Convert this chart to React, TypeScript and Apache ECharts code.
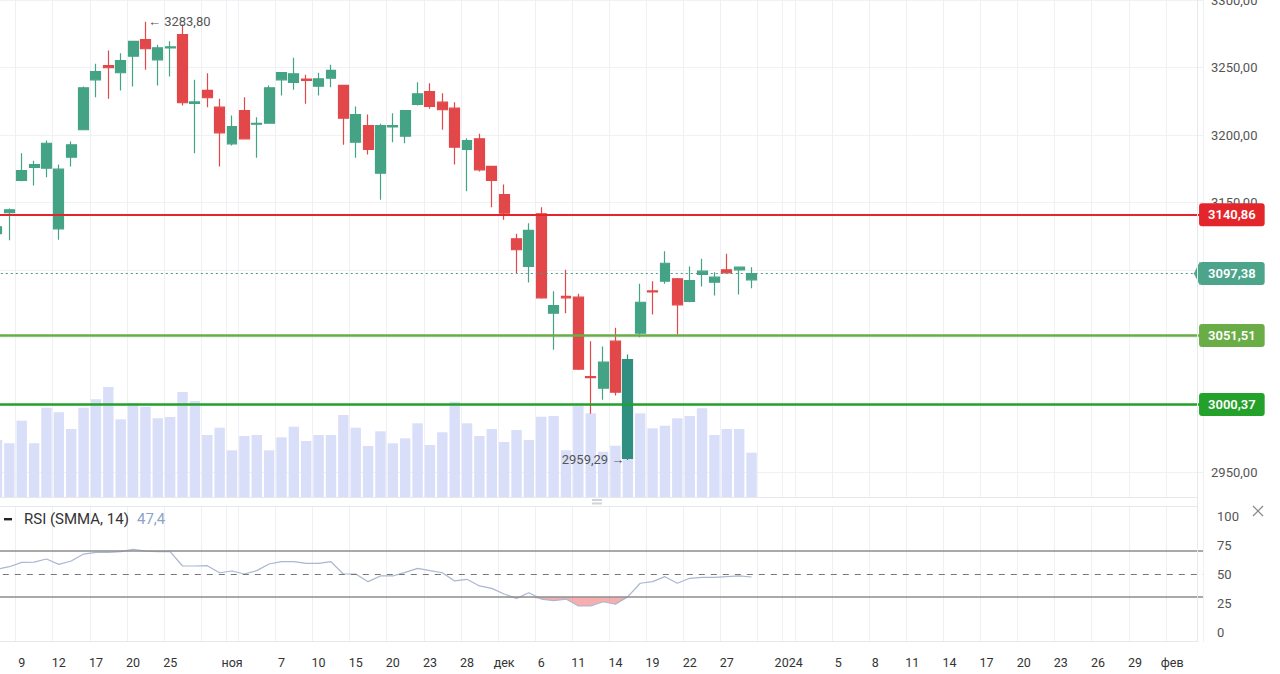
import React, { useEffect, useRef } from "react";
import * as echarts from "echarts";

// ---------- DATA ----------
const tradingDates = [
  "2023-10-05","2023-10-06","2023-10-09","2023-10-10","2023-10-11","2023-10-12","2023-10-13",
  "2023-10-16","2023-10-17","2023-10-18","2023-10-19","2023-10-20","2023-10-23","2023-10-24",
  "2023-10-25","2023-10-26","2023-10-27","2023-10-30","2023-10-31","2023-11-01","2023-11-02",
  "2023-11-03","2023-11-06","2023-11-07","2023-11-08","2023-11-09","2023-11-10","2023-11-13",
  "2023-11-14","2023-11-15","2023-11-16","2023-11-17","2023-11-20","2023-11-21","2023-11-22",
  "2023-11-23","2023-11-24","2023-11-27","2023-11-28","2023-11-29","2023-11-30","2023-12-01",
  "2023-12-04","2023-12-05","2023-12-06","2023-12-07","2023-12-08","2023-12-11","2023-12-12",
  "2023-12-13","2023-12-14","2023-12-15","2023-12-18","2023-12-19","2023-12-20","2023-12-21",
  "2023-12-22","2023-12-25","2023-12-26","2023-12-27","2023-12-28","2023-12-29",
];
const futureStart = "2023-12-30";
const futureEnd = "2024-02-03";

const opens = [
  3127, 3142.4, 3166.3, 3176, 3175.4, 3130.5, 3183.6, 3203.9, 3240.9, 3251.5,
  3246.1, 3258.4, 3270.7, 3255.7, 3264.5, 3274.4, 3223.5, 3233, 3220.6, 3193.5,
  3218.1, 3208, 3208.7, 3240.9, 3238.9, 3241.4, 3236.1, 3242.1, 3236.7, 3194.7,
  3207, 3171.7, 3206, 3199.1, 3222.6, 3232.2, 3224.3, 3219.9, 3189.3, 3197.2,
  3176.7, 3155.9, 3123.1, 3102.6, 3141.6, 3068, 3080.4, 3079.9, 3021, 3012.4,
  3047.3, 2960.5, 3053.2, 3084.5, 3091.7, 3093.5, 3076.7, 3096.7, 3091, 3100.1,
  3100.1, 3092.7,
];
const closes = [
  3132, 3144.6, 3173.7, 3178, 3193.9, 3174.7, 3192.7, 3235, 3247, 3249.8,
  3255.2, 3269.3, 3263.9, 3264.6, 3265.3, 3223.9, 3224.5, 3227.6, 3201.6, 3206.3,
  3197.2, 3208.6, 3235, 3246.3, 3245.3, 3240.4, 3241.6, 3247.8, 3212.4, 3215.2,
  3189.3, 3207, 3207, 3218.1, 3230.5, 3221.1, 3218.7, 3191, 3195.9, 3174.2,
  3166.3, 3142.1, 3115, 3129.3, 3079.4, 3073.7, 3079.4, 3026.5, 3020.2, 3031.7,
  3009.5, 3033.7, 3076.1, 3083.7, 3105, 3074.2, 3092.2, 3099.1, 3094.7, 3097.9,
  3102.1, 3097.38,
];
const lows = [
  3122, 3122, 3165.8, 3162.6, 3168.7, 3122.4, 3176.7, 3203.5, 3228, 3226.8,
  3233, 3235.9, 3248.3, 3236.7, 3243.3, 3221.9, 3186.5, 3220.6, 3176.7, 3192.2,
  3196.7, 3183.1, 3208.3, 3229.3, 3233.5, 3223.1, 3229.3, 3235.4, 3192.7, 3183.1,
  3185.6, 3152, 3194.7, 3193.9, 3221.9, 3219.4, 3203.9, 3178.1, 3158.4, 3173,
  3146.5, 3137.2, 3097.2, 3090.7, 3078.7, 3040.9, 3068, 3026, 2993.5, 3003.9,
  3007, 2959.29, 3050.2, 3067, 3089.8, 3052.2, 3076.1, 3087.8, 3081.1, 3097.2,
  3081.9, 3086.5,
];
const highs = [
  3136, 3145.5, 3186.5, 3181, 3195.9, 3178.1, 3195.2, 3236, 3252.7, 3262.6,
  3260.6, 3269.5, 3283.8, 3266.8, 3269.5, 3281.9, 3241, 3245.8, 3226.8, 3214.4,
  3228, 3213.2, 3236.7, 3246.5, 3257.2, 3244.6, 3246.1, 3252, 3237, 3221.1,
  3215.2, 3208.3, 3216.1, 3218.6, 3239.1, 3238.4, 3231, 3224.3, 3197.6, 3200.9,
  3177, 3163.3, 3126.8, 3134.7, 3146.5, 3084.3, 3100.1, 3082.4, 3047.3, 3043.3,
  3057.2, 3037.4, 3089.8, 3091.7, 3113.9, 3094, 3102.6, 3108.3, 3098.4, 3112,
  3102.5, 3102.1,
];
const volumes = [
  57, 53.7, 76.3, 53.7, 89.3, 84.7, 68, 89.3, 97.7, 110,
  77.7, 93.7, 90.3, 78.7, 80, 105, 96, 62, 69.3, 46.7,
  61, 62, 46.7, 59.7, 70.3, 56, 62, 62, 82, 69.3,
  51, 65.7, 53.7, 58.7, 73.7, 52, 64.7, 95.3, 73.7, 61,
  68, 55, 67, 57, 80.3, 81, 46.7, 91, 83.7, 45.3,
  51.3, 52, 83.7, 68.7, 71.3, 78.7, 81, 88.7, 62, 68,
  68, 44.3,
];
const rsi = [
  54, 56.3, 60, 60.3, 62.9, 58.3, 61.2, 67.2, 68.7, 68.7,
  69.3, 71.3, 69.8, 69.3, 69.3, 56.9, 56.9, 57.2, 51.1, 52.6,
  50, 52.9, 58.6, 60.6, 60.6, 59.2, 59.2, 60.6, 50, 50,
  43.4, 48.3, 48.3, 51.4, 54.9, 52.9, 51.1, 44, 45.4, 39.7,
  37.6, 32.8, 29, 33.9, 28.4, 27, 28.4, 22.4, 22.4, 26.1,
  23.9, 30.5, 42, 43.4, 47.7, 42, 46.3, 47.1, 47.1, 47.7,
  48.3, 47.4,
];

const levelValues = [3140.86, 3051.51, 3000.37];
const levelColors = ["#e3262b", "#6aad47", "#23a12a"];
const lastPrice = 3097.38;
const maxMarkIndex = 12;
const minMarkIndex = 51;

const xLabelDates = [
  "2023-10-09","2023-10-12","2023-10-17","2023-10-20","2023-10-25","2023-11-01","2023-11-07",
  "2023-11-10","2023-11-15","2023-11-20","2023-11-23","2023-11-28","2023-12-01","2023-12-06",
  "2023-12-11","2023-12-14","2023-12-19","2023-12-22","2023-12-27","2024-01-01","2024-01-05",
  "2024-01-08","2024-01-11","2024-01-14","2024-01-17","2024-01-20","2024-01-23","2024-01-26",
  "2024-01-29","2024-02-01",
];
const xLabelTexts = [
  "9","12","17","20","25","ноя","7","10","15","20","23","28","дек","6","11","14","19","22","27",
  "2024","5","8","11","14","17","20","23","26","29","фев",
];
const gridOnlyDates = ["2023-10-30","2023-11-02","2023-12-30","2024-01-02"];

const priceMin = 2900;
const priceMax = 3300;
const priceStep = 50;
const volumeAxisMax = 497;
const rsiLevels = [70, 30];
const rsiMid = 50;

// ---------- helpers ----------
function buildCategories(): string[] {
  const out = tradingDates.slice();
  const d = new Date(futureStart + "T00:00:00Z");
  const end = new Date(futureEnd + "T00:00:00Z");
  while (d.getTime() <= end.getTime()) {
    out.push(d.toISOString().slice(0, 10));
    d.setUTCDate(d.getUTCDate() + 1);
  }
  return out;
}
const fmt = (v: number, digits = 2) => v.toFixed(digits).replace(".", ",");

const GREEN = "#44a385";
const RED = "#e2474a";
const FONT = "Roboto, 'Noto Sans', sans-serif";

export default function App() {
  const ref = useRef<HTMLDivElement>(null);

  useEffect(() => {
    if (!ref.current) return;
    const chart = echarts.init(ref.current, null, { renderer: "svg" });
    const cats = buildCategories();
    const n = cats.length;
    const band = 12.37;
    const left = -9.2;
    const gw = band * n;

    const labelMap: Record<string, string> = {};
    xLabelDates.forEach((d, i) => (labelMap[d] = xLabelTexts[i]));
    const gridSet = new Set<string>([...xLabelDates, ...gridOnlyDates]);

    const ohlc = opens.map((o, i) => {
      const item: any = { value: [o, closes[i], lows[i], highs[i]] };
      if (i === minMarkIndex) {
        item.itemStyle = { color: "#2f8f80", borderColor: "#2f8f80" };
      }
      return item;
    });
    const fillBase = rsi.map((v) => Math.min(v, rsiLevels[1]));
    const fillDiff = rsi.map((v) => rsiLevels[1] - Math.min(v, rsiLevels[1]));
    const tagged = [...levelValues, lastPrice];
    const hiddenByTag = (v: number) => tagged.some((t) => Math.abs(t - v) < 5);

    const gridBase = { left, width: gw, outerBoundsMode: "none", containLabel: false } as any;

    const tagLabel = (text: string, bg: string) => ({
      show: true,
      position: "end",
      distance: -4,
      formatter: text,
      backgroundColor: bg,
      color: "#fff",
      padding: [5, 9, 5, 9],
      borderRadius: 3,
      fontSize: 13,
      fontWeight: 600,
      fontFamily: FONT,
    });

    const option: any = {
      animation: false,
      backgroundColor: "#ffffff",
      textStyle: { fontFamily: FONT },
      grid: [
        { ...gridBase, top: 0, height: 540 },
        { ...gridBase, top: 0, height: 497 },
        { ...gridBase, top: 516, height: 116 },
        { ...gridBase, top: 0, height: 642 },
      ],
      xAxis: [0, 1, 2, 3].map((gi) => ({
        type: "category",
        gridIndex: gi,
        data: cats,
        boundaryGap: true,
        show: gi === 3,
        axisLine: { show: false },
        axisTick: { show: false },
        axisLabel: {
          show: gi === 3,
          interval: (_i: number, v: string) => v in labelMap,
          formatter: (v: string) => labelMap[v] || "",
          color: "#333",
          fontSize: 12.5,
          margin: 14,
          fontFamily: FONT,
        },
        splitLine: {
          show: gi === 3,
          interval: (_i: number, v: string) => gridSet.has(v),
          lineStyle: { color: "#eef0f3", width: 1 },
        },
      })),
      yAxis: [
        {
          type: "value",
          gridIndex: 0,
          position: "right",
          min: priceMin,
          max: priceMax,
          interval: priceStep,
          axisLine: { show: false },
          axisTick: { show: false },
          axisLabel: {
            color: "#555",
            fontSize: 13,
            margin: 8,
            fontFamily: FONT,
            formatter: (v: number) => (v === priceMin || hiddenByTag(v) ? "" : fmt(v)),
          },
          splitLine: { show: true, showMinLine: false, lineStyle: { color: "#f0f1f4" } },
        },
        { type: "value", gridIndex: 1, min: 0, max: volumeAxisMax, show: false },
        {
          type: "value",
          gridIndex: 2,
          position: "right",
          min: 0,
          max: 100,
          interval: 25,
          axisLine: { show: false },
          axisTick: { show: false },
          splitLine: { show: false },
          axisLabel: { color: "#555", fontSize: 13, margin: 14, fontFamily: FONT },
        },
        { type: "value", gridIndex: 3, min: 0, max: 1, show: false },
      ],
      series: [
        {
          name: "Объём",
          type: "bar",
          xAxisIndex: 1,
          yAxisIndex: 1,
          data: volumes,
          barWidth: 10.4,
          silent: true,
          itemStyle: { color: "#d9def9" },
          z: 1,
        },
        {
          name: "IMOEX",
          type: "candlestick",
          xAxisIndex: 0,
          yAxisIndex: 0,
          data: ohlc,
          barWidth: 10.4,
          z: 3,
          itemStyle: {
            color: GREEN,
            color0: RED,
            borderColor: GREEN,
            borderColor0: RED,
            borderWidth: 1.2,
          },
          markLine: {
            silent: true,
            symbol: ["none", "none"],
            z: 6,
            data: [
              {
                yAxis: lastPrice,
                lineStyle: { color: "#4a9c86", type: [2, 3], width: 1 },
                label: tagLabel(fmt(lastPrice), "#4ca58b"),
              },
              ...levelValues.map((v, i) => ({
                yAxis: v,
                lineStyle: { color: levelColors[i], type: "solid", width: i === 0 ? 2 : 2.5 },
                label: tagLabel(fmt(v), levelColors[i]),
              })),
            ],
          },
          markPoint: {
            silent: true,
            z: 7,
            data: [
              {
                coord: [cats[maxMarkIndex], highs[maxMarkIndex]],
                symbol: "circle",
                symbolSize: 1,
                itemStyle: { color: "rgba(0,0,0,0)" },
                label: {
                  show: true,
                  position: "right",
                  distance: 2,
                  formatter: "← " + fmt(highs[maxMarkIndex]),
                  color: "#555",
                  fontSize: 13,
                  fontFamily: FONT,
                },
              },
              {
                coord: [cats[minMarkIndex], lows[minMarkIndex]],
                symbol: "circle",
                symbolSize: 1,
                itemStyle: { color: "rgba(0,0,0,0)" },
                label: {
                  show: true,
                  position: "left",
                  distance: 3,
                  formatter: fmt(lows[minMarkIndex]) + " →",
                  color: "#555",
                  fontSize: 13,
                  fontFamily: FONT,
                },
              },
              {
                coord: [cats[n - 1], lastPrice],
                symbol: "path://M0,12L6,0L6,24Z",
                symbolSize: [6, 24],
                itemStyle: { color: "#4ca58b" },
                label: { show: false },
              },
            ],
          },
        },
        {
          name: "fillBase",
          type: "line",
          xAxisIndex: 2,
          yAxisIndex: 2,
          stack: "rsiFill",
          data: fillBase,
          symbol: "none",
          silent: true,
          lineStyle: { opacity: 0 },
        },
        {
          name: "fillDiff",
          type: "line",
          xAxisIndex: 2,
          yAxisIndex: 2,
          stack: "rsiFill",
          data: fillDiff,
          symbol: "none",
          silent: true,
          lineStyle: { opacity: 0 },
          areaStyle: { color: "rgba(242,110,110,0.8)" },
        },
        {
          name: "RSI",
          type: "line",
          xAxisIndex: 2,
          yAxisIndex: 2,
          data: rsi,
          symbol: "none",
          z: 4,
          lineStyle: { color: "#a9b7cf", width: 1.2 },
          markLine: {
            silent: true,
            symbol: ["none", "none"],
            label: { show: false },
            data: [
              ...rsiLevels.map((v) => ({ yAxis: v, lineStyle: { color: "#8c8c8c", width: 1.5, type: "solid" } })),
              { yAxis: rsiMid, lineStyle: { color: "#777", width: 1, type: [6, 6] } },
            ],
          },
        },
      ],
      graphic: [
        { type: "line", shape: { x1: 0, y1: 497.5, x2: 1197, y2: 497.5 }, style: { stroke: "#e6e8ec", lineWidth: 1 }, z: 10 },
        { type: "rect", shape: { x: 0, y: 498, width: 1197, height: 9 }, style: { fill: "#ffffff" }, z: 9 },
        { type: "line", shape: { x1: 0, y1: 506.5, x2: 1197, y2: 506.5 }, style: { stroke: "#e6e8ec", lineWidth: 1 }, z: 10 },
        { type: "line", shape: { x1: 0, y1: 641.5, x2: 1197, y2: 641.5 }, style: { stroke: "#e6e8ec", lineWidth: 1 }, z: 10 },
        { type: "line", shape: { x1: 1197.5, y1: 0, x2: 1197.5, y2: 642 }, style: { stroke: "#e6e8ec", lineWidth: 1 }, z: 10 },
        { type: "rect", shape: { x: 592, y: 499, width: 10, height: 2 }, style: { fill: "#d0d3d8" }, z: 11 },
        { type: "rect", shape: { x: 592, y: 502.5, width: 10, height: 2 }, style: { fill: "#d0d3d8" }, z: 11 },
        { type: "rect", shape: { x: 4, y: 518, width: 8, height: 2.4 }, style: { fill: "#222" }, z: 11 },
        {
          type: "text",
          x: 24,
          y: 519,
          z: 11,
          style: { text: "RSI (SMMA, 14)", fill: "#333", fontSize: 15, fontFamily: FONT, verticalAlign: "middle" },
        },
        {
          type: "text",
          x: 137,
          y: 519,
          z: 11,
          style: { text: fmt(rsi[rsi.length - 1], 1), fill: "#8ea3c7", fontSize: 15, fontFamily: FONT, verticalAlign: "middle" },
        },
        { type: "line", shape: { x1: 1253, y1: 506, x2: 1263, y2: 516 }, style: { stroke: "#888", lineWidth: 1.2 }, z: 11 },
        { type: "line", shape: { x1: 1263, y1: 506, x2: 1253, y2: 516 }, style: { stroke: "#888", lineWidth: 1.2 }, z: 11 },
      ],
    };

    chart.setOption(option);
    return () => chart.dispose();
  }, []);

  return (
    <div
      ref={ref}
      style={{ position: "absolute", left: 0, top: 0, width: 1280, height: 674, background: "#fff" }}
    />
  );
}
